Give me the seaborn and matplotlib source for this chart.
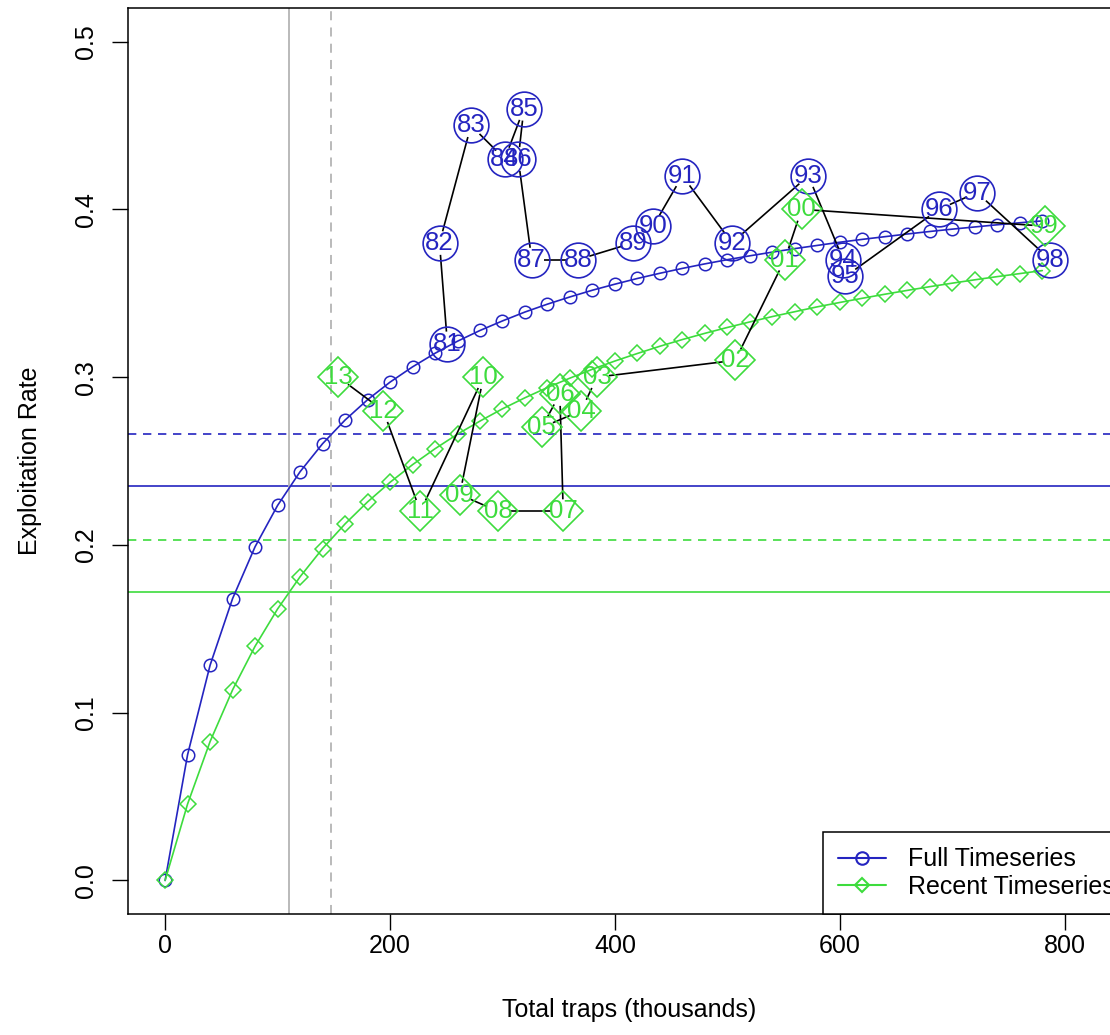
import numpy as np
import matplotlib
matplotlib.use("Agg")
import matplotlib.pyplot as plt
import seaborn as sns
from matplotlib.lines import Line2D
from matplotlib.collections import LineCollection

# ---------------- data ----------------
curve_traps = [0, 20, 40, 60, 80, 100, 120, 140, 160, 180, 200, 220, 240, 260, 280,
               300, 320, 340, 360, 380, 400, 420, 440, 460, 480, 500, 520, 540, 560,
               580, 600, 620, 640, 660, 680, 700, 720, 740, 760, 780]
full_curve_rate = [0.0, 0.0750, 0.1283, 0.1680, 0.1989, 0.2235, 0.2436, 0.2603, 0.2744,
                   0.2865, 0.2970, 0.3061, 0.3142, 0.3214, 0.3278, 0.3335, 0.3388, 0.3435,
                   0.3478, 0.3518, 0.3554, 0.3588, 0.3619, 0.3648, 0.3675, 0.3700, 0.3723,
                   0.3745, 0.3766, 0.3785, 0.3804, 0.3821, 0.3837, 0.3853, 0.3868, 0.3882,
                   0.3895, 0.3908, 0.3920, 0.3931]
recent_curve_rate = [0.0, 0.0456, 0.0828, 0.1136, 0.1396, 0.1618, 0.1810, 0.1978, 0.2125,
                     0.2256, 0.2373, 0.2478, 0.2573, 0.2660, 0.2738, 0.2811, 0.2877, 0.2938,
                     0.2994, 0.3047, 0.3096, 0.3141, 0.3184, 0.3224, 0.3261, 0.3296, 0.3329,
                     0.3361, 0.3390, 0.3419, 0.3445, 0.3470, 0.3494, 0.3517, 0.3539, 0.3560,
                     0.3580, 0.3599, 0.3617, 0.3635]

full_years = ["81", "82", "83", "84", "85", "86", "87", "88", "89", "90", "91", "92",
              "93", "94", "95", "96", "97", "98"]
full_traps = [251, 244, 272, 302, 319, 314, 326, 367, 416, 434, 460, 504, 572, 603,
              605, 688, 722, 787]
full_rate = [0.32, 0.38, 0.45, 0.43, 0.46, 0.43, 0.37, 0.37, 0.38, 0.39, 0.42, 0.38,
             0.42, 0.37, 0.36, 0.40, 0.41, 0.37]

recent_years = ["99", "00", "01", "02", "03", "04", "05", "06", "07", "08", "09", "10",
                "11", "12", "13"]
recent_traps = [782, 566, 551, 507, 384, 370, 335, 351, 354, 296, 262, 283, 227, 194, 154]
recent_rate = [0.39, 0.40, 0.37, 0.31, 0.30, 0.28, 0.27, 0.29, 0.22, 0.22, 0.23, 0.30,
               0.22, 0.28, 0.30]

full_ref_solid = 0.235
full_ref_dashed = 0.266
recent_ref_solid = 0.172
recent_ref_dashed = 0.203
traps_ref_solid = 110
traps_ref_dashed = 147.5

x_ticks = [0, 200, 400, 600, 800]
y_ticks = [0.0, 0.1, 0.2, 0.3, 0.4, 0.5]
y_tick_labels = ["0.0", "0.1", "0.2", "0.3", "0.4", "0.5"]
legend_labels = ["Full Timeseries", "Recent Timeseries"]

# ---------------- style ----------------
BLUE = "#2424c0"
GREEN = "#3ddc3d"
GREY = "#b4b4b4"

sns.set_theme(style="white")
plt.rcParams["font.family"] = ["Liberation Sans", "DejaVu Sans"]
plt.rcParams["axes.edgecolor"] = "black"
plt.rcParams["axes.linewidth"] = 1.1
plt.rcParams["text.color"] = "black"
plt.rcParams["axes.labelcolor"] = "black"
plt.rcParams["xtick.color"] = "black"
plt.rcParams["ytick.color"] = "black"

fig = plt.figure(figsize=(11.10, 10.35), dpi=100)
ax = fig.add_axes([128 / 1110, 121 / 1035, 1002 / 1110, 906 / 1035])
ax.set_xlim(-33, 858)
ax.set_ylim(-0.02, 0.52)

# reference lines
ax.axhline(full_ref_dashed, color=BLUE, lw=1.2, ls=(0, (5, 4)), zorder=1)
ax.axhline(full_ref_solid, color=BLUE, lw=1.2, zorder=1)
ax.axhline(recent_ref_dashed, color=GREEN, lw=1.2, ls=(0, (5, 4)), zorder=1)
ax.axhline(recent_ref_solid, color=GREEN, lw=1.2, zorder=1)
ax.axvline(traps_ref_solid, color=GREY, lw=1.3, zorder=1)
ax.axvline(traps_ref_dashed, color=GREY, lw=1.3, ls=(0, (5, 4)), zorder=1)

# fitted curves
sns.lineplot(x=curve_traps, y=full_curve_rate, ax=ax, color=BLUE, lw=1.2,
             marker="o", markersize=9, markerfacecolor="none",
             markeredgecolor=BLUE, markeredgewidth=1.1, sort=False,
             estimator=None, zorder=3)
sns.lineplot(x=curve_traps, y=recent_curve_rate, ax=ax, color=GREEN, lw=1.2,
             marker="D", markersize=8, markerfacecolor="none",
             markeredgecolor=GREEN, markeredgewidth=1.1, sort=False,
             estimator=None, zorder=3)


# year-to-year paths (with gaps around the points, like R type="b")
def gapped_path(xs, ys, gap_px):
    pts = ax.transData.transform(np.column_stack([xs, ys]))
    inv = ax.transData.inverted()
    segs = []
    for p0, p1 in zip(pts[:-1], pts[1:]):
        d = p1 - p0
        L = np.hypot(d[0], d[1])
        if L <= 2 * gap_px:
            continue
        u = d / L
        a = inv.transform(p0 + u * gap_px)
        b = inv.transform(p1 - u * gap_px)
        segs.append([a, b])
    ax.add_collection(LineCollection(segs, colors="black", linewidths=1.2, zorder=4))


gapped_path(full_traps, full_rate, 12)
gapped_path(recent_traps, recent_rate, 12)

# year markers + labels
ax.plot(full_traps, full_rate, ls="none", marker="o", markersize=25,
        markerfacecolor="none", markeredgecolor=BLUE, markeredgewidth=1.2, zorder=5)
ax.plot(recent_traps, recent_rate, ls="none", marker="D", markersize=20,
        markerfacecolor="none", markeredgecolor=GREEN, markeredgewidth=1.2, zorder=5)
for xv, yv, lab in zip(full_traps, full_rate, full_years):
    ax.text(xv, yv, lab, color=BLUE, fontsize=18.5, ha="center", va="center", zorder=6)
for xv, yv, lab in zip(recent_traps, recent_rate, recent_years):
    ax.text(xv, yv, lab, color=GREEN, fontsize=18.5, ha="center", va="center", zorder=6)

# axes
for s in ax.spines.values():
    s.set_visible(True)
    s.set_color("black")
ax.set_xticks(x_ticks)
ax.set_xticklabels([str(v) for v in x_ticks])
ax.set_yticks(y_ticks)
ax.set_yticklabels(y_tick_labels)
ax.tick_params(axis="both", direction="out", length=11.5, width=1.0, colors="black",
               labelsize=18, bottom=True, left=True)
ax.tick_params(axis="x", pad=3)
ax.tick_params(axis="y", pad=10)
for lab in ax.get_yticklabels():
    lab.set_rotation(90)
    lab.set_va("center")
ax.set_xlabel("Total traps (thousands)", fontsize=18, labelpad=29, color="black")
ax.set_ylabel("Exploitation Rate", fontsize=18, labelpad=23, color="black")
ax.grid(False)

# legend
handles = [
    Line2D([], [], color=BLUE, lw=1.5, marker="o", markersize=9,
           markerfacecolor="none", markeredgecolor=BLUE, markeredgewidth=1.5),
    Line2D([], [], color=GREEN, lw=1.5, marker="D", markersize=7,
           markerfacecolor="none", markeredgecolor=GREEN, markeredgewidth=1.5),
]
leg = ax.legend(handles, legend_labels, loc="lower right", borderaxespad=0,
                frameon=True, fancybox=False, edgecolor="black", framealpha=1,
                fontsize=18, handlelength=1.9, handletextpad=0.9, borderpad=0.6,
                labelspacing=0.15, labelcolor="black")
leg.get_frame().set_linewidth(1.1)
leg.set_zorder(10)

fig.savefig("out.png", dpi=100)
